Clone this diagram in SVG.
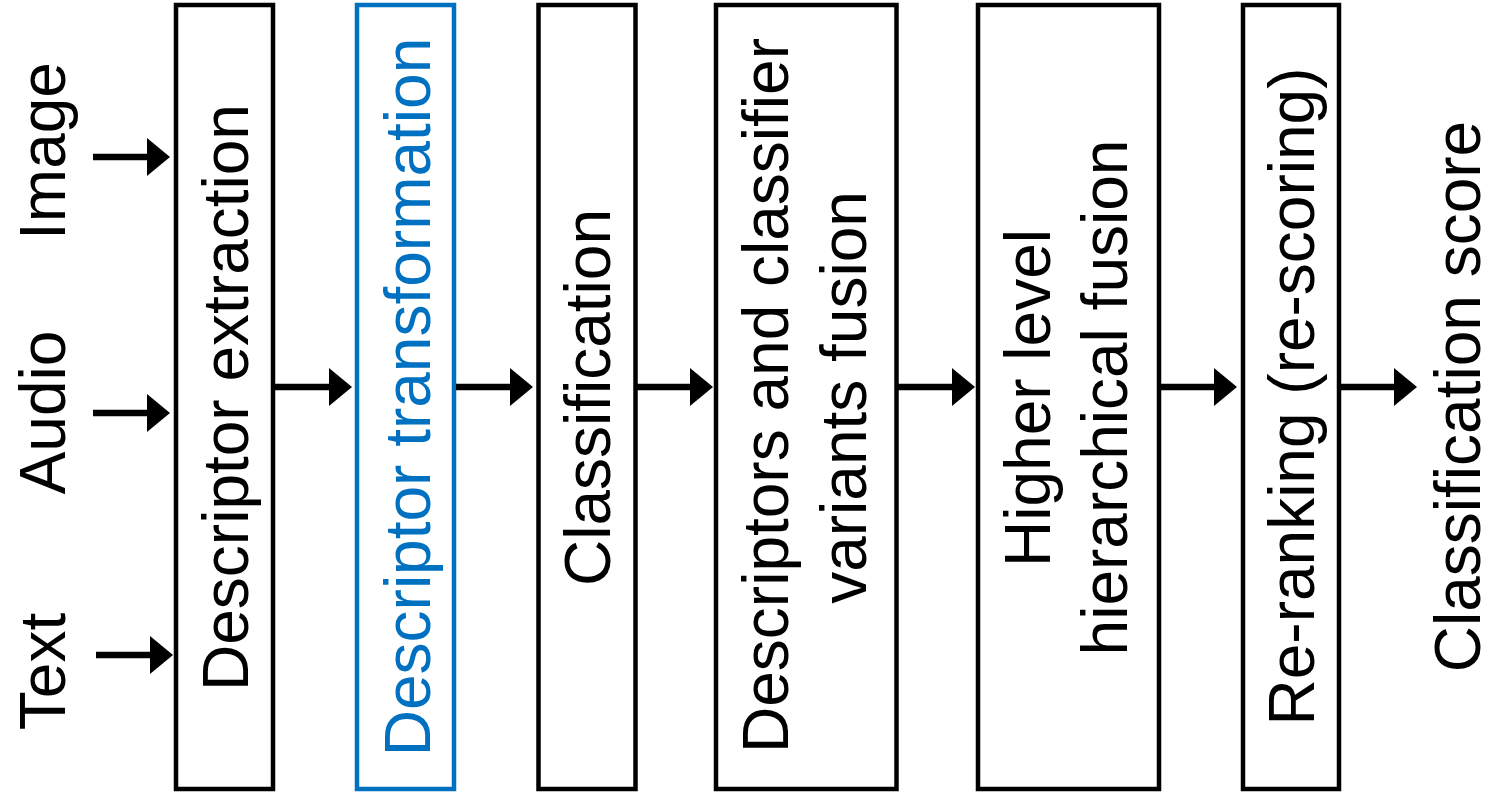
<svg xmlns="http://www.w3.org/2000/svg" width="1488" height="794" viewBox="0 0 1488 794">
  <style>
    .box { fill: #ffffff; stroke: #000000; stroke-width: 4.5; }
    .blue { stroke: #0070C0; }
    .lbl { font-family: "Liberation Sans", Arial, sans-serif; font-size: 64px; fill: #000000; text-anchor: middle; }
    .lbl.bluet { fill: #0070C0; }
    .conn { stroke: #000000; stroke-width: 6.5; fill: none; marker-end: url(#ah); }
  </style>
  <defs>
    <marker id="ah" viewBox="0 0 23 38" markerWidth="23" markerHeight="38" refX="0" refY="19" orient="auto" markerUnits="userSpaceOnUse">
      <path d="M0,0 L23,19 L0,38 z" fill="#000000"/>
    </marker>
  </defs>
  <rect width="1488" height="794" fill="#ffffff"/>

  <g id="input-image">
    <text class="lbl" transform="translate(65,151) rotate(-90)">Image</text>
  </g>
  <g id="input-audio">
    <text class="lbl" transform="translate(65,412.5) rotate(-90)">Audio</text>
  </g>
  <g id="input-text">
    <text class="lbl" transform="translate(65,671.5) rotate(-90)">Text</text>
  </g>

  <g id="descriptor-extraction">
    <rect class="box" x="176" y="5" width="97" height="784"/>
    <text class="lbl" transform="translate(248,397.5) rotate(-90)">Descriptor extraction</text>
  </g>
  <g id="descriptor-transformation">
    <rect class="box blue" x="357" y="5" width="97" height="784"/>
    <text class="lbl bluet" transform="translate(430,397) rotate(-90)">Descriptor transformation</text>
  </g>
  <g id="classification">
    <rect class="box" x="538.5" y="5" width="97" height="784"/>
    <text class="lbl" transform="translate(610,397.5) rotate(-90)">Classification</text>
  </g>
  <g id="fusion">
    <rect class="box" x="716" y="5" width="180.5" height="784"/>
    <text class="lbl" transform="translate(788,395.5) rotate(-90)">Descriptors and classifier</text>
    <text class="lbl" transform="translate(866,397.5) rotate(-90)">variants fusion</text>
  </g>
  <g id="hierarchical-fusion">
    <rect class="box" x="978" y="5" width="181" height="784"/>
    <text class="lbl" transform="translate(1050,398) rotate(-90)">Higher level</text>
    <text class="lbl" transform="translate(1127,397.5) rotate(-90)">hierarchical fusion</text>
  </g>
  <g id="re-ranking">
    <rect class="box" x="1243" y="5" width="96" height="784"/>
    <text class="lbl" transform="translate(1314,396.5) rotate(-90)">Re-ranking (re-scoring)</text>
  </g>
  <g id="output">
    <text class="lbl" transform="translate(1480,396.5) rotate(-90)">Classification score</text>
  </g>

  <g id="connectors">
    <line class="conn" x1="93" y1="157" x2="147" y2="157"/>
    <line class="conn" x1="93" y1="413" x2="147" y2="413"/>
    <line class="conn" x1="96" y1="655" x2="150" y2="655"/>
    <line class="conn" x1="275" y1="387" x2="329" y2="387"/>
    <line class="conn" x1="456" y1="387" x2="510" y2="387"/>
    <line class="conn" x1="637" y1="387" x2="690" y2="387"/>
    <line class="conn" x1="898" y1="387" x2="952" y2="387"/>
    <line class="conn" x1="1161" y1="387" x2="1214" y2="387"/>
    <line class="conn" x1="1341" y1="387" x2="1394" y2="387"/>
  </g>
</svg>
